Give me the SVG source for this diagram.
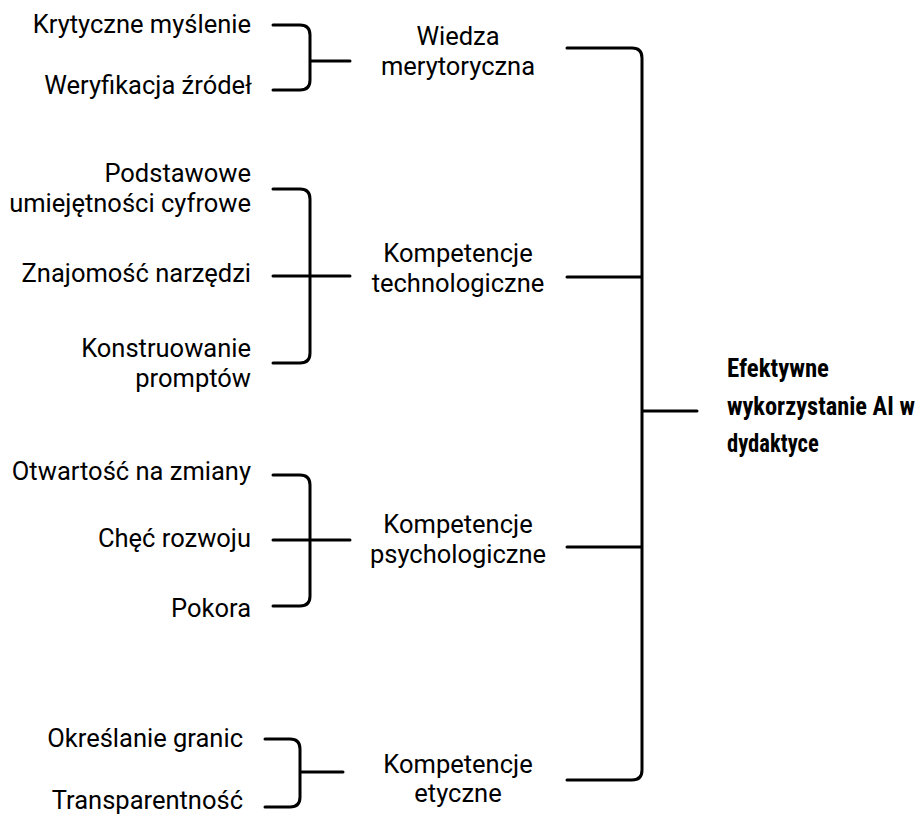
<svg xmlns="http://www.w3.org/2000/svg" width="922" height="816" viewBox="0 0 922 816">
<style>
.t{font-family:Roboto,"Liberation Sans",sans-serif;font-size:25.5px;fill:#000}
.l{text-anchor:end}
.m{text-anchor:middle}
.b{font-family:"Roboto Condensed",Roboto,"Liberation Sans Narrow",sans-serif;font-weight:bold;font-size:26px;fill:#000}
.c{fill:none;stroke:#000;stroke-width:3;stroke-linecap:round;stroke-linejoin:round}
</style>
<rect width="922" height="816" fill="#fff"/>
<g id="connectors">
<path class="c" d="M273,25 H300 Q310,25 310,35 V80 Q310,90 300,90 H273 M310,61 H350"/>
<path class="c" d="M273,189 H300 Q310,189 310,199 V353 Q310,363 300,363 H273 M273,276 H350"/>
<path class="c" d="M273,475 H300 Q310,475 310,485 V596 Q310,606 300,606 H273 M273,540 H350"/>
<path class="c" d="M265,739 H290 Q300,739 300,749 V797 Q300,807 290,807 H265 M300,772 H343"/>
<path class="c" d="M567,48 H632 Q642,48 642,58 V770 Q642,780 632,780 H567 M567,277 H642 M567,547 H642 M642,411 H697"/>
</g>
<g id="n-krytyczne"><text class="t l" x="251" y="33">Krytyczne myślenie</text></g>
<g id="n-weryfikacja"><text class="t l" x="252" y="94">Weryfikacja źródeł</text></g>
<g id="n-podstawowe"><text class="t l" x="251" y="182">Podstawowe</text><text class="t l" x="251" y="212">umiejętności cyfrowe</text></g>
<g id="n-znajomosc"><text class="t l" x="251" y="282">Znajomość narzędzi</text></g>
<g id="n-konstruowanie"><text class="t l" x="251" y="357">Konstruowanie</text><text class="t l" x="251" y="387">promptów</text></g>
<g id="n-otwartosc"><text class="t l" x="251" y="480">Otwartość na zmiany</text></g>
<g id="n-chec"><text class="t l" x="251" y="547">Chęć rozwoju</text></g>
<g id="n-pokora"><text class="t l" x="251" y="617">Pokora</text></g>
<g id="n-okreslanie"><text class="t l" x="243" y="747">Określanie granic</text></g>
<g id="n-transparentnosc"><text class="t l" x="243" y="809">Transparentność</text></g>
<g id="n-wiedza"><text class="t m" x="458" y="45">Wiedza</text><text class="t m" x="458" y="75">merytoryczna</text></g>
<g id="n-tech"><text class="t m" x="458" y="262">Kompetencje</text><text class="t m" x="458" y="292">technologiczne</text></g>
<g id="n-psych"><text class="t m" x="458" y="533">Kompetencje</text><text class="t m" x="458" y="563">psychologiczne</text></g>
<g id="n-etyczne"><text class="t m" x="458" y="773">Kompetencje</text><text class="t m" x="458" y="802">etyczne</text></g>
<g id="n-efektywne" transform="translate(727 0) scale(0.85 1)"><text class="b" x="0" y="377" textLength="120" lengthAdjust="spacingAndGlyphs">Efektywne</text><text class="b" x="0" y="415" textLength="221" lengthAdjust="spacingAndGlyphs">wykorzystanie AI w</text><text class="b" x="0" y="452" textLength="108" lengthAdjust="spacingAndGlyphs">dydaktyce</text></g>
</svg>
